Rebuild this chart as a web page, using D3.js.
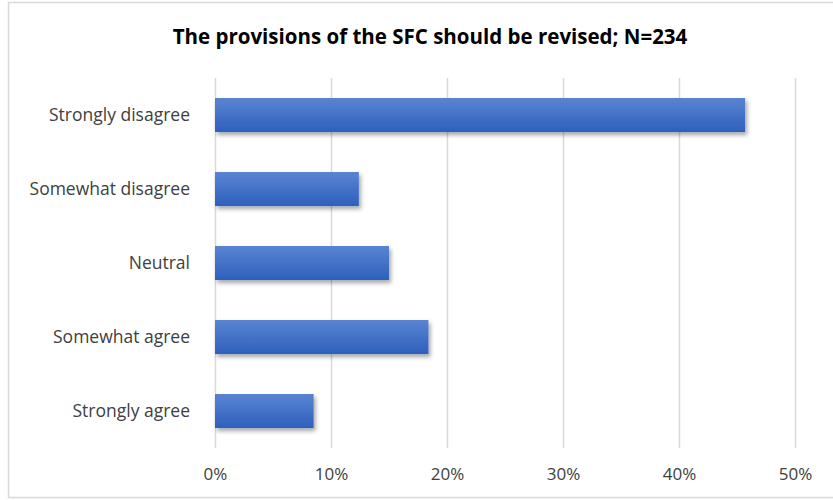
<!DOCTYPE html>
<html>
<head>
<meta charset="utf-8">
<script src="https://cdn.jsdelivr.net/npm/d3@7"></script>
<style>
  html, body { margin: 0; padding: 0; background: #ffffff; }
  svg { display: block; }
</style>
</head>
<body>
<svg id="chart" width="833" height="500"></svg>
<script>
// Survey responses (share of N=234)
const categories = ["Strongly disagree", "Somewhat disagree", "Neutral", "Somewhat agree", "Strongly agree"];
const shares = [0.457, 0.124, 0.150, 0.184, 0.085];
const tickValues = [0, 0.1, 0.2, 0.3, 0.4, 0.5];
const title = "The provisions of the SFC should be revised; N=234";

const svg = d3.select("#chart");
const W = 833, H = 500;
const margin = { left: 215, right: 38, top: 78, bottom: 52 };

const fontFamily = "'Open Sans', 'Noto Sans', sans-serif";

// Chart frame
svg.append("rect")
  .attr("x", 8.5).attr("y", 2.5)
  .attr("width", W).attr("height", 495)
  .attr("fill", "#ffffff")
  .attr("stroke", "#d9d9d9").attr("stroke-width", 1.5);

const x = d3.scaleLinear().domain([0, 0.5]).range([margin.left, W - margin.right]);
const y = d3.scaleBand().domain(categories)
  .range([margin.top, H - margin.bottom])
  .paddingInner(0.54).paddingOuter(0.27);

const defs = svg.append("defs");
const grad = defs.append("linearGradient").attr("id", "barFill")
  .attr("x1", 0).attr("y1", 0).attr("x2", 0).attr("y2", 1);
grad.append("stop").attr("offset", "0%").attr("stop-color", "#5a84d2");
grad.append("stop").attr("offset", "100%").attr("stop-color", "#2d60bd");

const shadow = defs.append("filter").attr("id", "barShadow")
  .attr("x", "-5%").attr("y", "-30%").attr("width", "115%").attr("height", "180%");
shadow.append("feDropShadow")
  .attr("dx", 2).attr("dy", 3).attr("stdDeviation", 2)
  .attr("flood-color", "#000000").attr("flood-opacity", 0.35);

// Vertical gridlines and percentage ticks
const xAxis = d3.axisBottom(x).tickValues(tickValues)
  .tickFormat(d3.format(".0%"))
  .tickSize(-(H - margin.bottom - margin.top)).tickPadding(20);

const gx = svg.append("g")
  .attr("transform", `translate(0,${H - margin.bottom})`)
  .call(xAxis);
gx.select(".domain").remove();
gx.selectAll(".tick line").attr("stroke", "#d9d9d9").attr("stroke-width", 1.5);
gx.selectAll(".tick text")
  .attr("fill", "#404040")
  .style("font-family", fontFamily)
  .style("font-size", "17px");

// Bars
svg.append("g").selectAll("rect")
  .data(categories)
  .join("rect")
  .attr("x", x(0))
  .attr("y", d => y(d))
  .attr("width", (d, i) => x(shares[i]) - x(0))
  .attr("height", y.bandwidth())
  .attr("fill", "url(#barFill)")
  .attr("filter", "url(#barShadow)");

// Category labels
const yAxis = d3.axisLeft(y).tickSize(0).tickPadding(25);
const gy = svg.append("g")
  .attr("transform", `translate(${margin.left},0)`)
  .call(yAxis);
gy.select(".domain").remove();
gy.selectAll(".tick text")
  .attr("fill", "#404040")
  .style("font-family", fontFamily)
  .style("font-size", "17.5px");

// Title
svg.append("text")
  .attr("x", 430).attr("y", 44)
  .attr("text-anchor", "middle")
  .attr("fill", "#000000")
  .style("font-family", fontFamily)
  .style("font-size", "20.5px")
  .style("font-weight", "bold")
  .text(title);
</script>
</body>
</html>
